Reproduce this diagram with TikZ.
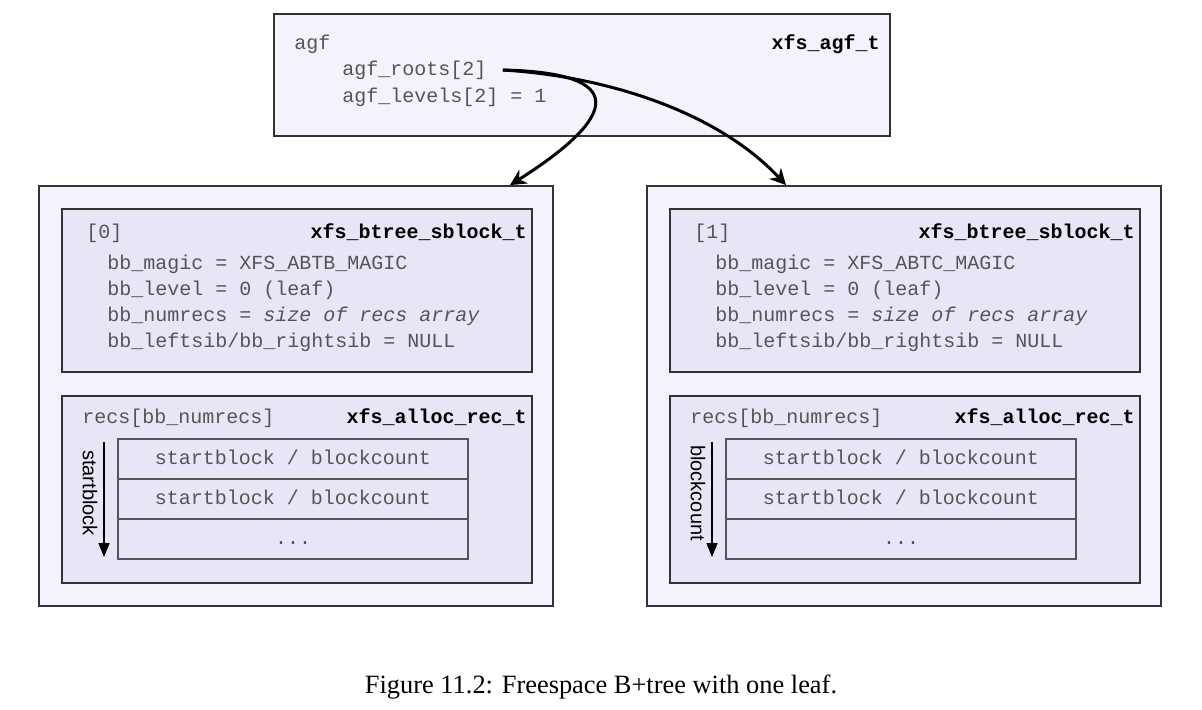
\documentclass[tikz,border=0pt]{standalone}
\usepackage{fontspec}
\setmainfont{Liberation Serif}
\setsansfont{Liberation Sans}
\setmonofont{Liberation Mono}
\usetikzlibrary{arrows.meta}
\definecolor{outerfill}{HTML}{F3F3FC}
\definecolor{innerfill}{HTML}{E6E6F7}
\definecolor{codegray}{HTML}{555555}
\definecolor{edgegray}{HTML}{333333}

\begin{document}
\begin{tikzpicture}[x=0.5pt, y=-0.5pt,
    outerbox/.style={draw=edgegray, fill=outerfill, line width=0.9pt},
    innerbox/.style={draw=edgegray, fill=innerfill, line width=0.9pt},
    code/.style={font=\ttfamily\fontsize{10}{12}\selectfont, text=codegray,
        inner sep=0pt, text height=7pt, text depth=2pt},
    structname/.style={code, font=\ttfamily\bfseries\fontsize{10}{12}\selectfont, text=black},
    cell/.style={code, draw=codegray, line width=0.7pt, minimum width=175pt, minimum height=20pt},
    ptr/.style={line width=1.5pt, -{Stealth[length=8pt, width=8pt]}},
    order/.style={line width=0.75pt, -{Triangle[length=7pt, width=5.5pt]}}]
                \useasboundingbox (0, 0) rectangle (1202, 709);
                \node (agf) [outerbox, minimum width=308pt, minimum height=61pt] at (582, 75) {};
                \node (agfname) [code, anchor=west] at (294, 44) {agf};
                \node (agftype) [structname, anchor=east] at (880, 44) {xfs\_agf\_t};
                \node (roots) [code, anchor=west] at (342, 70) {agf\_roots[2]};
                \node (levels) [code, anchor=west] at (342, 97) {agf\_levels[2] = 1};
                \foreach \i/\dx/\magic/\key in {0/0/ABTB/startblock, 1/608/ABTC/blockcount} {
                    \node (leaf\i) [outerbox, minimum width=257pt, minimum height=210pt] at (296+\dx, 396) {};
                    \node (hdr\i) [innerbox, minimum width=235pt, minimum height=81.5pt] at (297+\dx, 290.5) {};
                    \node (recs\i) [innerbox, minimum width=235pt, minimum height=93.5pt] at (297+\dx, 489.5) {};
                    \node (idx\i) [code, anchor=west] at (86+\dx, 233) {[\i]};
                    \node (hdrtype\i) [structname, anchor=east] at (527+\dx, 233) {xfs\_btree\_sblock\_t};
                    \node (magic\i) [code, anchor=west] at (107+\dx, 264) {bb\_magic = XFS\_\magic\_MAGIC};
                    \node (level\i) [code, anchor=west] at (107+\dx, 290) {bb\_level = 0 (leaf)};
                    \node (numrecs\i) [code, anchor=west] at (107+\dx, 316) {bb\_numrecs = \textit{size of recs array}};
                    \node (sib\i) [code, anchor=west] at (107+\dx, 342) {bb\_leftsib/bb\_rightsib = NULL};
                    \node (recsname\i) [code, anchor=west] at (82+\dx, 418) {recs[bb\_numrecs]};
                    \node (recstype\i) [structname, anchor=east] at (527+\dx, 418) {xfs\_alloc\_rec\_t};
                    \node (rowa\i) [cell] at (293+\dx, 459) {startblock / blockcount};
                    \node (rowb\i) [cell] at (293+\dx, 499) {startblock / blockcount};
                    \node (rowc\i) [cell] at (293+\dx, 539) {...};
                    \coordinate (keytop\i) at (104+\dx, 442);
                    \coordinate (keybot\i) at (104+\dx, 557);
                    \draw[order] (keytop\i) -- (keybot\i);
                    \node (key\i) [rotate=-90, font=\sffamily\fontsize{10}{12}\selectfont, inner sep=0pt] at (90+\dx, 493) {\key};
                }
                \coordinate (ptrstart) at ([xshift=8pt]roots.east);
                \draw[ptr] (ptrstart) .. controls +(140, 3) and +(95, -60) .. ([xshift=107pt]leaf0.north);
                \draw[ptr] (ptrstart) .. controls +(100, 6) and +(-70, -75) .. ([xshift=-59pt]leaf1.north);
                \node (caption) [font=\fontsize{13.2}{15}\selectfont] at (601, 687) {Figure 11.2: Freespace B+tree with one leaf.};
\end{tikzpicture}
\end{document}
